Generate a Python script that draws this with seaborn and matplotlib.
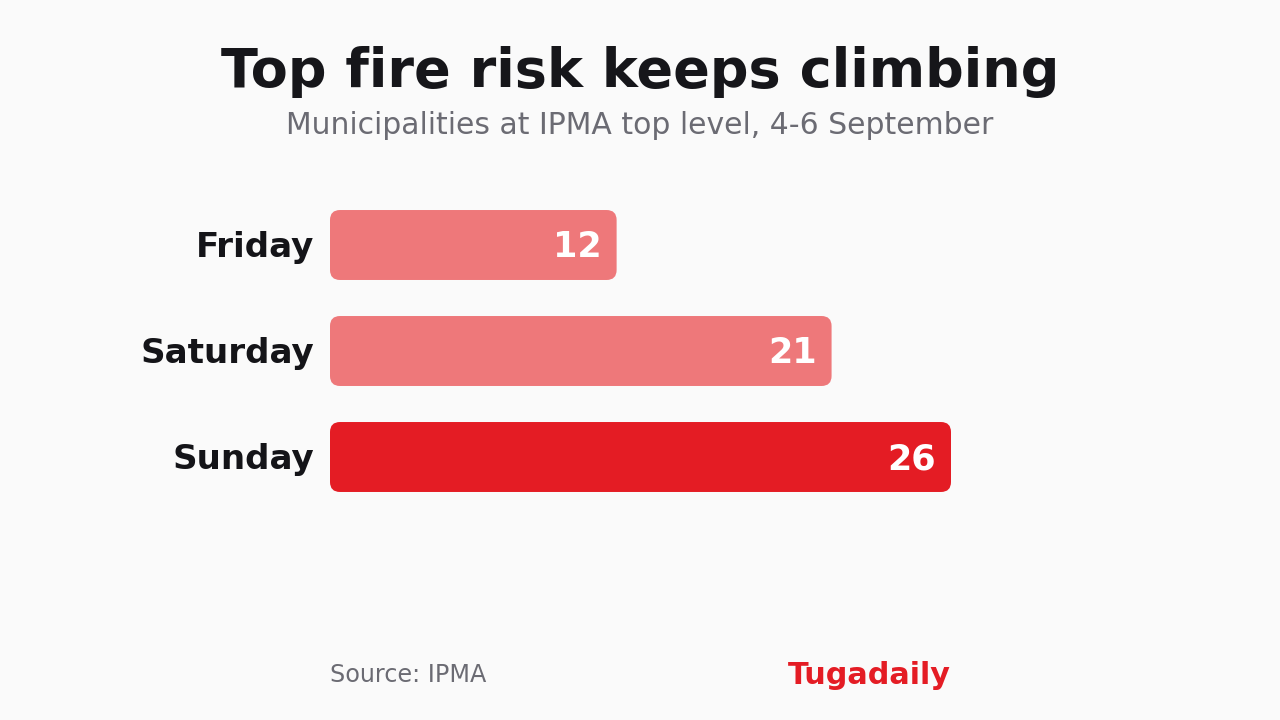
import os
import matplotlib
matplotlib.use("Agg")
import matplotlib.pyplot as plt
import seaborn as sns
import pandas as pd
from matplotlib.patches import FancyBboxPatch
from matplotlib.font_manager import FontProperties

days = ["Friday", "Saturday", "Sunday"]
values = [12, 21, 26]
colors = ["#EE787A", "#EE787A", "#E41C24"]

title = "Top fire risk keeps climbing"
subtitle = "Municipalities at IPMA top level, 4-6 September"
source = "Source: IPMA"
brand = "Tugadaily"

BG = "#FAFAFA"
sns.set_theme(style="white")
plt.rcParams["font.family"] = ["DejaVu Sans"]

ttf_dir = os.path.join(matplotlib.get_data_path(), "fonts", "ttf")
reg_path = os.path.join(ttf_dir, "DejaVuSans.ttf")
bold_path = os.path.join(ttf_dir, "DejaVuSans-Bold.ttf")


def fp(size, bold=False):
    path = bold_path if bold else reg_path
    if os.path.exists(path):
        return FontProperties(fname=path, size=size)
    return FontProperties(family="DejaVu Sans", size=size,
                          weight="bold" if bold else "normal")


W, H = 1280, 720
fig = plt.figure(figsize=(12.8, 7.2), dpi=100, facecolor=BG)

ax_left, ax_w = 330, 621
ax_top, ax_h = 192, 318
ax = fig.add_axes([ax_left / W, 1 - (ax_top + ax_h) / H, ax_w / W, ax_h / H])
ax.set_facecolor(BG)

df = pd.DataFrame({"day": days, "value": values})
sns.barplot(data=df, x="value", y="day", hue="day", palette=colors,
            orient="h", width=0.66, legend=False, ax=ax, saturation=1)
ax.set_xlim(0, 26)
ax.set_ylim(2.5, -0.5)

# replace bars with rounded ones
px_x = ax_w / 26.0
px_y = ax_h / 3.0
r_px = 10
rs = r_px / px_x
aspect = (r_px / px_y) / rs
dy = -1.5 / px_y
for p in list(ax.patches):
    x, y = p.get_x(), p.get_y()
    w, h = p.get_width(), p.get_height()
    fc = p.get_facecolor()
    p.remove()
    fb = FancyBboxPatch((x, y), w, h,
                        boxstyle=f"round,pad=0,rounding_size={rs}",
                        mutation_aspect=aspect, facecolor=fc,
                        edgecolor="none", linewidth=0)
    ax.add_patch(fb)
    ax.text(x + w - 15 / px_x, y + h / 2 + dy, f"{int(round(w))}",
            ha="right", va="center_baseline", color="white",
            fontproperties=fp(25.2, True))

for i, d in enumerate(days):
    ax.text(-16 / px_x, i + dy, d, ha="right", va="center_baseline",
            color="#141418", clip_on=False, fontproperties=fp(24.6, True))

ax.set_xlabel("")
ax.set_ylabel("")
ax.set_xticks([])
ax.set_yticks([])
for s in ax.spines.values():
    s.set_visible(False)

fig.text(0.5, 1 - 72 / H, title, ha="center", va="center",
         color="#16161A", fontproperties=fp(39, True))
fig.text(0.5, 1 - 125 / H, subtitle, ha="center", va="center",
         color="#6B6B73", fontproperties=fp(21.5))
fig.text(330 / W, 1 - 675 / H, source, ha="left", va="center",
         color="#6B6B73", fontproperties=fp(17.2))
fig.text(951 / W, 1 - 675 / H, brand, ha="right", va="center",
         color="#E41C24", fontproperties=fp(21.8, True))

fig.savefig("out.png", dpi=100, facecolor=BG)
